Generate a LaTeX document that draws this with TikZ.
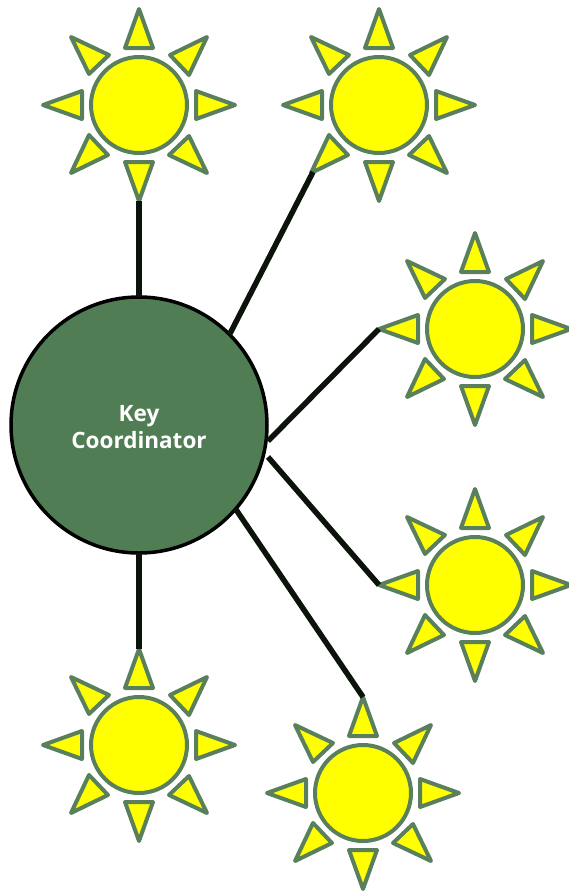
\documentclass[tikz,border=0pt]{standalone}
\usepackage{fontspec}
\setmainfont{Open Sans}
\definecolor{keygreen}{HTML}{507D53}
\definecolor{rimgreen}{HTML}{5A7F5C}
\definecolor{linkblack}{HTML}{0B130B}
\definecolor{sunyellow}{RGB}{255,255,0}
\begin{document}
\begin{tikzpicture}[
  x = 1pt,
  y = -1pt,
  key/.style = {
    shape = circle,
    fill = keygreen,
    draw = black,
    line width = 3.5pt,
    minimum size = 256pt,
    inner sep = 0pt,
    outer sep = 0pt,
  },
  keylabel/.style = {
    text = white,
    align = center,
    inner sep = 0pt,
    font = \fontsize{22.5}{27}\selectfont\bfseries,
  },
  body/.style = {
    shape = circle,
    fill = sunyellow,
    draw = rimgreen,
    line width = 4pt,
    minimum size = 96pt,
    inner sep = 0pt,
    outer sep = 0pt,
  },
  ray/.style = {
    fill = sunyellow,
    draw = rimgreen,
    line width = 4pt,
    line join = round,
  },
  link/.style = {
    color = linkblack,
    line width = 5.5pt,
  },
  sun/.pic = {
    \node[body] (-body) at (0, 0) {};
    \foreach \angle in {0, 90, 180, 270} {
      \draw[ray, rotate = \angle] (0, -96) -- (-14, -57) -- (14, -57) -- cycle;
      \draw[ray, rotate = \angle] (-68, -68) -- (-50, -31) -- (-30, -50) -- cycle;
    }
    \coordinate (-n) at (0, -96);
    \coordinate (-s) at (0, 96);
    \coordinate (-w) at (-96, 0);
    \coordinate (-sw) at (-66, 67);
  }
]
  \useasboundingbox (0, 0) rectangle (568, 892);

  \node[key] (coordinator) at (139, 425) {};
  \node[keylabel] (label) at (139, 427) {Key\\Coordinator};
  \coordinate (gap3) at (268, 441);
  \coordinate (gap4) at (268, 457);

  \pic (sun1) at (139, 105) {sun};
  \pic (sun2) at (379, 105) {sun};
  \pic (sun3) at (475, 329) {sun};
  \pic (sun4) at (475, 585) {sun};
  \pic (sun5) at (139, 745) {sun};
  \pic (sun6) at (363, 793) {sun};

  \draw[link] (sun1-s) -- (coordinator.90);
  \draw[link] (sun2-sw) -- (coordinator.45);
  \draw[link] (sun3-w) -- (gap3);
  \draw[link] (sun4-w) -- (gap4);
  \draw[link] (sun5-n) -- (coordinator.-90);
  \draw[link] (sun6-n) -- (coordinator.-41);
\end{tikzpicture}
\end{document}
